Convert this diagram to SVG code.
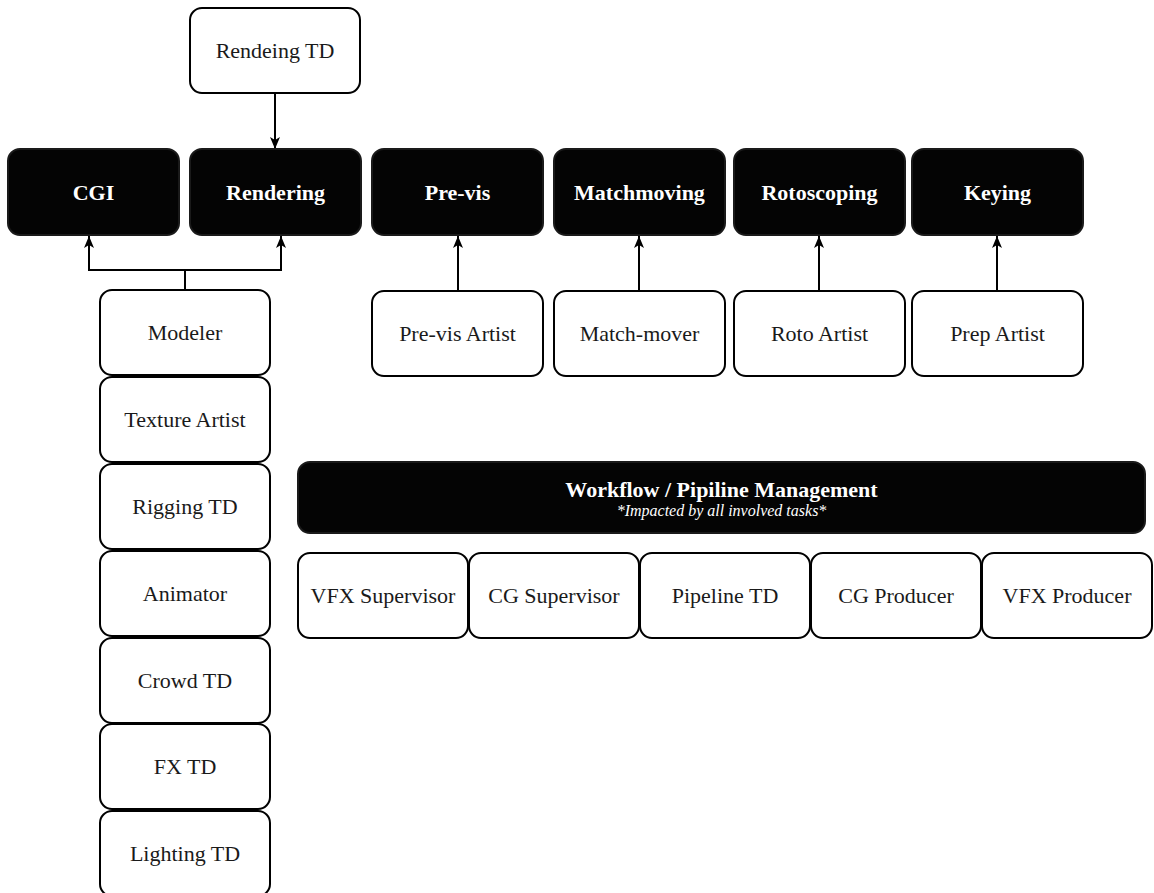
<svg xmlns="http://www.w3.org/2000/svg" width="1154" height="893" viewBox="0 0 1154 893">
<defs>
<style>
.w{fill:#ffffff;stroke:#000000;stroke-width:2}
.b{fill:#040404;stroke:#1a1a1a;stroke-width:2}
.t{font-family:"Liberation Serif","Times New Roman",serif;font-size:22px;fill:#1a1a1a;text-anchor:middle}
.bt{font-family:"Liberation Serif","Times New Roman",serif;font-size:22px;font-weight:bold;fill:#ffffff;text-anchor:middle}
.it{font-family:"Liberation Serif","Times New Roman",serif;font-size:16px;font-style:italic;fill:#ffffff;text-anchor:middle}
.c{fill:none;stroke:#000000;stroke-width:2}
</style>
<marker id="arr" markerUnits="userSpaceOnUse" markerWidth="12" markerHeight="12" refX="12" refY="6" orient="auto" viewBox="0 0 12 12">
<path d="M0,1 L12,6 L0,11 L3,6 z" fill="#000000"/>
</marker>
</defs>
<rect width="1154" height="893" fill="#ffffff"/>

<g id="connectors">
<path class="c" d="M275,93 V149" marker-end="url(#arr)"/>
<path class="c" d="M185,290 V270 H89 V236" marker-end="url(#arr)"/>
<path class="c" d="M185,270 H281 V236" marker-end="url(#arr)"/>
<path class="c" d="M458,291 V236" marker-end="url(#arr)"/>
<path class="c" d="M639,291 V236" marker-end="url(#arr)"/>
<path class="c" d="M819,291 V236" marker-end="url(#arr)"/>
<path class="c" d="M997,291 V236" marker-end="url(#arr)"/>
</g>

<g id="rendeing-td"><rect class="w" x="190" y="8" width="170" height="85" rx="12"/><text class="t" x="275" y="58">Rendeing TD</text></g>

<g id="cgi"><rect class="b" x="8" y="149" width="171" height="86" rx="12"/><text class="bt" x="93.5" y="200">CGI</text></g>
<g id="rendering"><rect class="b" x="190" y="149" width="171" height="86" rx="12"/><text class="bt" x="275.5" y="200">Rendering</text></g>
<g id="pre-vis"><rect class="b" x="372" y="149" width="171" height="86" rx="12"/><text class="bt" x="457.5" y="200">Pre-vis</text></g>
<g id="matchmoving"><rect class="b" x="554" y="149" width="171" height="86" rx="12"/><text class="bt" x="639.5" y="200">Matchmoving</text></g>
<g id="rotoscoping"><rect class="b" x="734" y="149" width="171" height="86" rx="12"/><text class="bt" x="819.5" y="200">Rotoscoping</text></g>
<g id="keying"><rect class="b" x="912" y="149" width="171" height="86" rx="12"/><text class="bt" x="997.5" y="200">Keying</text></g>

<g id="pre-vis-artist"><rect class="w" x="372" y="291" width="171" height="85" rx="12"/><text class="t" x="457.5" y="341">Pre-vis Artist</text></g>
<g id="match-mover"><rect class="w" x="554" y="291" width="171" height="85" rx="12"/><text class="t" x="639.5" y="341">Match-mover</text></g>
<g id="roto-artist"><rect class="w" x="734" y="291" width="171" height="85" rx="12"/><text class="t" x="819.5" y="341">Roto Artist</text></g>
<g id="prep-artist"><rect class="w" x="912" y="291" width="171" height="85" rx="12"/><text class="t" x="997.5" y="341">Prep Artist</text></g>

<g id="modeler"><rect class="w" x="100" y="290" width="170" height="85" rx="12"/><text class="t" x="185" y="340">Modeler</text></g>
<g id="texture-artist"><rect class="w" x="100" y="377" width="170" height="85" rx="12"/><text class="t" x="185" y="427">Texture Artist</text></g>
<g id="rigging-td"><rect class="w" x="100" y="464" width="170" height="85" rx="12"/><text class="t" x="185" y="514">Rigging TD</text></g>
<g id="animator"><rect class="w" x="100" y="551" width="170" height="85" rx="12"/><text class="t" x="185" y="601">Animator</text></g>
<g id="crowd-td"><rect class="w" x="100" y="638" width="170" height="85" rx="12"/><text class="t" x="185" y="688">Crowd TD</text></g>
<g id="fx-td"><rect class="w" x="100" y="724" width="170" height="85" rx="12"/><text class="t" x="185" y="774">FX TD</text></g>
<g id="lighting-td"><rect class="w" x="100" y="811" width="170" height="85" rx="12"/><text class="t" x="185" y="861">Lighting TD</text></g>

<g id="workflow"><rect class="b" x="298" y="462" width="847" height="71" rx="12"/><text class="bt" x="721.5" y="497">Workflow / Pipiline Management</text><text class="it" x="721.5" y="516">*Impacted by all involved tasks*</text></g>

<g id="vfx-supervisor"><rect class="w" x="298" y="553" width="170" height="85" rx="12"/><text class="t" x="383" y="603">VFX Supervisor</text></g>
<g id="cg-supervisor"><rect class="w" x="469" y="553" width="170" height="85" rx="12"/><text class="t" x="554" y="603">CG Supervisor</text></g>
<g id="pipeline-td"><rect class="w" x="640" y="553" width="170" height="85" rx="12"/><text class="t" x="725" y="603">Pipeline TD</text></g>
<g id="cg-producer"><rect class="w" x="811" y="553" width="170" height="85" rx="12"/><text class="t" x="896" y="603">CG Producer</text></g>
<g id="vfx-producer"><rect class="w" x="982" y="553" width="170" height="85" rx="12"/><text class="t" x="1067" y="603">VFX Producer</text></g>
</svg>
